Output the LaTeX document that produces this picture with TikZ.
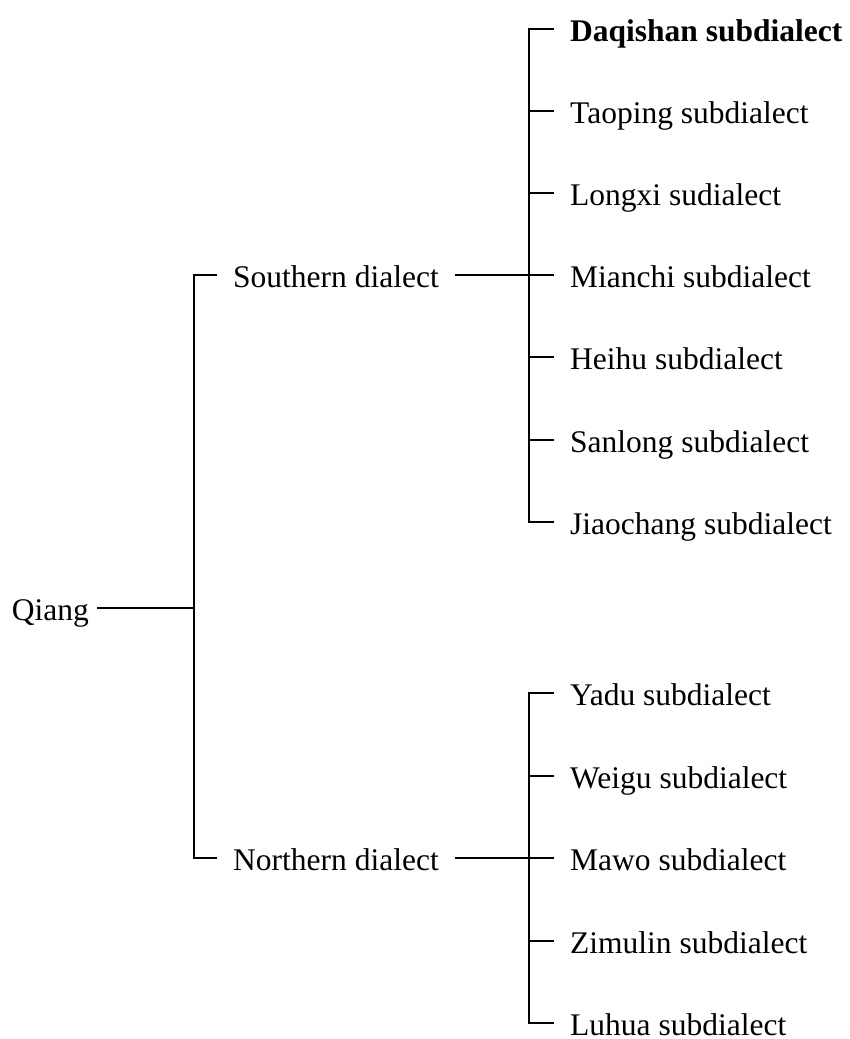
\documentclass[tikz,border=0pt]{standalone}
\usepackage{fontspec}
\setmainfont{Liberation Serif}
\usepackage{tikz}

\begin{document}
\begin{tikzpicture}[
  x=1pt,y=-1pt,
  lang/.style={anchor=west,inner xsep=16pt,inner ysep=0pt,text height=25pt,text depth=0pt,font=\fontsize{31.5}{38}\selectfont},
  rootlang/.style={lang,anchor=east,inner xsep=8pt},
  link/.style={line width=2pt,color=black}
]
\useasboundingbox (0,0) rectangle (850,1039);
\node[rootlang] (qiang) at (97,608) {Qiang};
\node[lang] (south) at (217,275) {Southern dialect};
\node[lang] (north) at (217,858) {Northern dialect};
\node[lang] (daqishan) at (554,29) {\bfseries Daqishan subdialect};
\node[lang] (taoping) at (554,111) {Taoping subdialect};
\node[lang] (longxi) at (554,193) {Longxi sudialect};
\node[lang] (mianchi) at (554,275) {Mianchi subdialect};
\node[lang] (heihu) at (554,357) {Heihu subdialect};
\node[lang] (sanlong) at (554,440) {Sanlong subdialect};
\node[lang] (jiaochang) at (554,522) {Jiaochang subdialect};
\node[lang] (yadu) at (554,693) {Yadu subdialect};
\node[lang] (weigu) at (554,775.5) {Weigu subdialect};
\node[lang] (mawo) at (554,858) {Mawo subdialect};
\node[lang] (zimulin) at (554,940.5) {Zimulin subdialect};
\node[lang] (luhua) at (554,1023) {Luhua subdialect};
\coordinate (root) at (194,608);
\coordinate (sbar) at (529,275);
\coordinate (nbar) at (529,858);
\draw[link] (qiang.east) -- (root);
\draw[link] (south.west) -| (root) |- (north.west);
\draw[link] (south.east) -- (mianchi.west);
\draw[link] (daqishan.west) -| (sbar) |- (jiaochang.west);
\draw[link] (taoping.west) -- (taoping.west -| sbar);
\draw[link] (longxi.west) -- (longxi.west -| sbar);
\draw[link] (heihu.west) -- (heihu.west -| sbar);
\draw[link] (sanlong.west) -- (sanlong.west -| sbar);
\draw[link] (north.east) -- (mawo.west);
\draw[link] (yadu.west) -| (nbar) |- (luhua.west);
\draw[link] (weigu.west) -- (weigu.west -| nbar);
\draw[link] (zimulin.west) -- (zimulin.west -| nbar);
\end{tikzpicture}
\end{document}
